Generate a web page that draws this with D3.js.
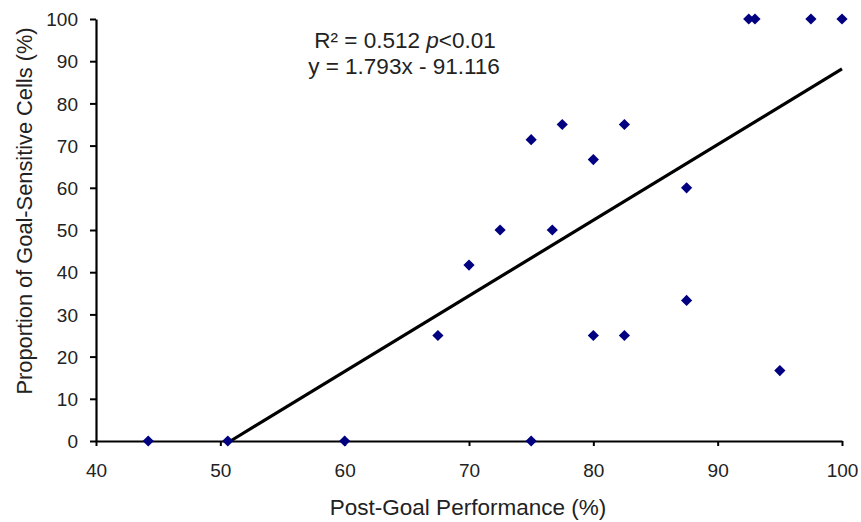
<!DOCTYPE html>
<html><head><meta charset="utf-8">
<script src="https://cdn.jsdelivr.net/npm/d3@7"></script>
<style>body{margin:0;background:#fff}svg{display:block;font-family:"Liberation Sans",Arial,sans-serif}</style>
</head><body>
<svg id="c" width="861" height="522"></svg>
<script>
const xValues = [44.2, 50.6, 60, 75, 67.5, 70, 72.5, 75, 76.7, 77.5, 80, 80, 82.5, 82.5, 87.5, 87.5, 92.5, 93, 95, 97.5, 100];
const yValues = [0, 0, 0, 0, 25, 41.7, 50, 71.4, 50, 75, 66.7, 25, 75, 25, 60, 33.3, 100, 100, 16.7, 100, 100];
const xTicks = [40, 50, 60, 70, 80, 90, 100];
const yTicks = [0, 10, 20, 30, 40, 50, 60, 70, 80, 90, 100];
const slope = 1.793, intercept = -91.116;
const fitRange = [-intercept / slope, 100];
const statsLines = ["R² = 0.512 ", "y = 1.793x - 91.116"];

const svg = d3.select("#c");
const x = d3.scaleLinear().domain([40, 100]).range([96, 842]);
const y = d3.scaleLinear().domain([0, 100]).range([441, 19]);

const gx = svg.append("g").attr("transform", `translate(0,${y(0)})`)
  .call(d3.axisBottom(x).tickValues(xTicks).tickSize(5).tickSizeOuter(0).tickPadding(18));
const gy = svg.append("g").attr("transform", `translate(${x(40)},0)`)
  .call(d3.axisLeft(y).tickValues(yTicks).tickSize(6).tickSizeOuter(0).tickPadding(12));
[gx, gy].forEach(g => {
  g.select(".domain").attr("stroke", "#000").attr("stroke-width", 2.2);
  g.selectAll(".tick line").attr("stroke", "#000").attr("stroke-width", 2);
  g.selectAll(".tick text").attr("fill", "#222").attr("font-size", 19).attr("font-family", '"Liberation Sans",Arial,sans-serif');
});
gy.selectAll(".tick text").attr("dy", "0.35em");

// regression line
svg.append("line")
  .attr("x1", x(fitRange[0])).attr("y1", y(slope * fitRange[0] + intercept))
  .attr("x2", x(fitRange[1])).attr("y2", y(slope * fitRange[1] + intercept))
  .attr("stroke", "#000").attr("stroke-width", 3.2);

// points
const diamond = d3.symbol().type(d3.symbolDiamond2).size(80);
svg.append("g").selectAll("path").data(xValues.map((v, i) => [v, yValues[i]])).join("path")
  .attr("d", diamond)
  .attr("transform", d => `translate(${x(d[0])},${y(d[1])})`)
  .attr("fill", "#000080");

// stats text
const t1 = svg.append("text").attr("x", 405).attr("y", 48).attr("text-anchor", "middle")
  .attr("font-size", 22.5).attr("fill", "#222");
t1.append("tspan").text(statsLines[0]);
t1.append("tspan").attr("font-style", "italic").text("p");
t1.append("tspan").text("<0.01");
svg.append("text").attr("x", 404).attr("y", 74).attr("text-anchor", "middle")
  .attr("font-size", 22.5).attr("fill", "#222").text(statsLines[1]);

// axis titles
svg.append("text").attr("x", 468).attr("y", 515).attr("text-anchor", "middle")
  .attr("font-size", 22.5).attr("fill", "#222").text("Post-Goal Performance (%)");
svg.append("text").attr("transform", "translate(32,211) rotate(-90)").attr("text-anchor", "middle")
  .attr("font-size", 21.8).attr("fill", "#222").text("Proportion of Goal-Sensitive Cells (%)");
</script>
</body></html>
